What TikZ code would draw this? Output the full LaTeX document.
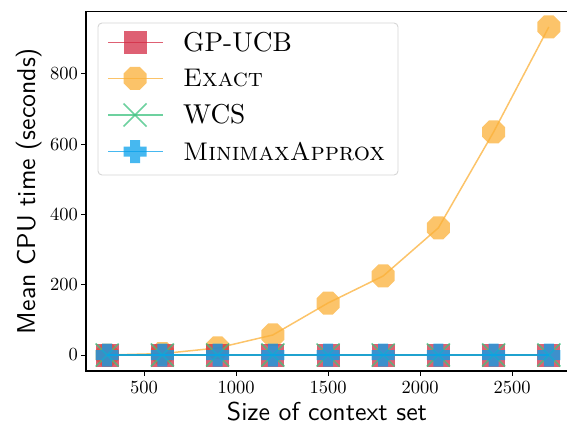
\documentclass[tikz,border=0pt]{standalone}
\usepackage{fontspec}
\newfontfamily\lmten[SmallCapsFont=lmromancaps10-regular.otf]{lmroman10-regular.otf}
\newfontfamily\lmsansten{lmsans10-regular.otf}
\definecolor{cred}{RGB}{211,43,68}
\definecolor{corange}{RGB}{251,176,56}
\definecolor{cgreen}{RGB}{61,195,128}
\definecolor{cblue}{RGB}{8,161,235}
\definecolor{legframe}{RGB}{214,214,214}
\tikzset{
  sqmark/.pic={\fill[cred,opacity=0.75] (-11.5pt,-11.5pt) rectangle (11.5pt,11.5pt);},
  octmark/.pic={\fill[corange,opacity=0.75] (22.5:12.45pt) \foreach \a in {67.5,112.5,...,337.5}{ -- (\a:12.45pt)} -- cycle;},
  xmark/.pic={\draw[cgreen,opacity=0.75,line width=1.7pt] (-11.5pt,-11.5pt) -- (11.5pt,11.5pt) (-11.5pt,11.5pt) -- (11.5pt,-11.5pt);},
  plusmark/.pic={\fill[cblue,opacity=0.75] (-5pt,-11.5pt) -- (5pt,-11.5pt) -- (5pt,-5pt) -- (11.5pt,-5pt) -- (11.5pt,5pt) -- (5pt,5pt) -- (5pt,11.5pt) -- (-5pt,11.5pt) -- (-5pt,5pt) -- (-11.5pt,5pt) -- (-11.5pt,-5pt) -- (-5pt,-5pt) -- cycle;},
  spine/.style={black,line width=1.3pt},
  tickmark/.style={black,line width=1pt},
  ticklab/.style={inner sep=0pt,font=\lmten\fontsize{18.5}{20}\selectfont},
  axlab/.style={inner sep=0pt,font=\lmsansten\fontsize{25.8}{28}\selectfont},
  legtext/.style={inner sep=0pt,anchor=base west,font=\lmten\fontsize{27.3}{30}\selectfont},
  legsc/.style={inner sep=0pt,anchor=base west,font=\lmten\fontsize{25.5}{28}\selectfont},
  seriesline/.style={opacity=0.75,line width=1.5pt},
}
\begin{document}
\begin{tikzpicture}
\useasboundingbox (0,0) rectangle (567pt,424pt);
\clip (0,0) rectangle (567pt,424pt);
\begin{scope}[shift={(52pt,69pt)},x=0.184pt,y=0.35125pt]
  % Exact
  \draw[corange,seriesline] plot coordinates {(300,0) (600,4) (900,20) (1200,57) (1500,148) (1800,225) (2100,362) (2400,635) (2700,934)};
  \foreach \xv/\yv in {300/0,600/4,900/20,1200/57,1500/148,1800/225,2100/362,2400/635,2700/934}
    \pic at (\xv,\yv) {octmark};
  % GP-UCB
  \draw[cred,seriesline] (300,0) -- (2700,0);
  \foreach \xv in {300,600,...,2700} \pic at (\xv,0) {sqmark};
  % WCS
  \draw[cgreen,seriesline] (300,0) -- (2700,0);
  \foreach \xv in {300,600,...,2700} \pic at (\xv,0) {xmark};
  % MinimaxApprox
  \draw[cblue,seriesline] (300,0) -- (2700,0);
  \foreach \xv in {300,600,...,2700} \pic at (\xv,0) {plusmark};
  % spines
  \draw[spine] (2850,978) -- (184.8,978) -- (184.8,-45.6) -- (2850,-45.6);
  % ticks
  \foreach \t in {0,200,400,600,800} {
    \draw[tickmark] (184.8,\t) -- ++(-5.5pt,0);
    \node[ticklab,anchor=east] (y\t) at ([xshift=-8pt]184.8,\t) {\t};
  }
  \foreach \t in {500,1000,1500,2000,2500} {
    \draw[tickmark] (\t,-45.6) -- ++(0,-5pt);
  }
\end{scope}
\foreach \t/\px in {500/144,1000/236,1500/328,2000/420,2500/512}
  \node[ticklab,anchor=base] (x\t) at (\px pt,31pt) {\t};
\node[axlab,anchor=base] (xlabel) at (327pt,3.5pt) {Size of context set};
\node[axlab,anchor=base,rotate=90] (ylabel) at (35pt,233pt) {Mean CPU time (seconds)};
% legend
\draw[legframe,fill=white,fill opacity=0.8,line width=0.9pt,rounded corners=4pt] (98pt,249pt) rectangle (398pt,401pt);
\draw[cred,seriesline] (108pt,381.7pt) -- (163pt,381.7pt);
\pic at (135pt,381.7pt) {sqmark};
\draw[corange,seriesline] (108pt,345.7pt) -- (163pt,345.7pt);
\pic at (135pt,345.7pt) {octmark};
\draw[cgreen,seriesline] (108pt,309pt) -- (163pt,309pt);
\pic at (135pt,309pt) {xmark};
\draw[cblue,seriesline] (108pt,272.3pt) -- (163pt,272.3pt);
\pic at (135pt,272.3pt) {plusmark};
\node[legtext] (l1) at (183pt,372.3pt) {GP-UCB};
\node[legsc] (l2) at (183pt,337.3pt) {\textsc{Exact}};
\node[legtext] (l3) at (183pt,301pt) {WCS};
\node[legsc] (l4) at (183pt,264pt) {\textsc{MinimaxApprox}};
\end{tikzpicture}
\end{document}
